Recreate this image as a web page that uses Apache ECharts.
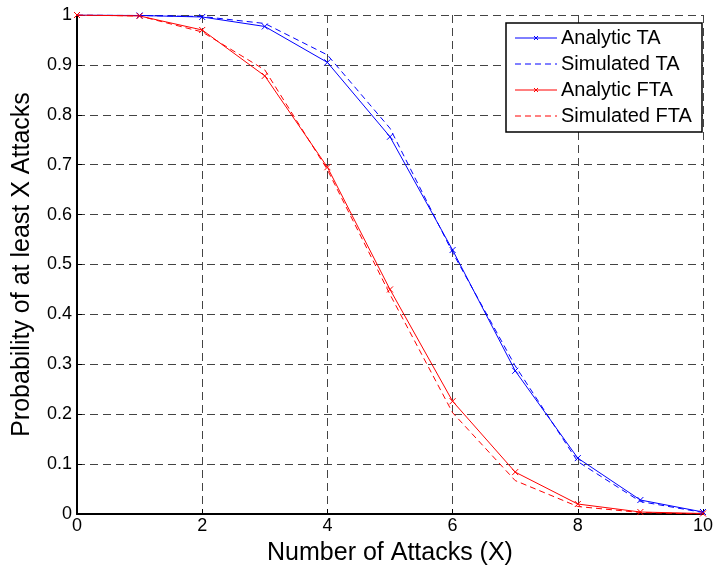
<!DOCTYPE html>
<html>
<head>
<meta charset="utf-8">
<script src="https://cdn.jsdelivr.net/npm/echarts@6/dist/echarts.min.js"></script>
<style>
  html, body { margin: 0; padding: 0; background: #fff; }
  #chart { width: 716px; height: 573px; }
</style>
</head>
<body>
<div id="chart"></div>
<script>
// Number of attacks on the x axis
const attacks = [0, 1, 2, 3, 4, 5, 6, 7, 8, 9, 10];

// Probability of at least X attacks
const analyticTA  = [1, 0.999, 0.996, 0.977, 0.905, 0.756, 0.529, 0.287, 0.112, 0.028, 0.004];
const simulatedTA = [1, 0.999, 0.997, 0.983, 0.920, 0.773, 0.524, 0.297, 0.105, 0.025, 0.003];
const analyticFTA  = [1, 0.998, 0.970, 0.878, 0.695, 0.450, 0.226, 0.084, 0.020, 0.004, 0.001];
const simulatedFTA = [1, 0.998, 0.966, 0.890, 0.690, 0.440, 0.203, 0.067, 0.015, 0.003, 0.000];

const yTicks = ['0', '0.1', '0.2', '0.3', '0.4', '0.5', '0.6', '0.7', '0.8', '0.9', '1'];
const legendNames = ['Analytic TA', 'Simulated TA', 'Analytic FTA', 'Simulated FTA'];

const pairs = ys => attacks.map((x, i) => [x, ys[i]]);
const cross = 'path://M0,0L10,10M10,0L0,10';
const font = 'Liberation Sans, Arial, sans-serif';
const BLUE = '#0000ff', RED = '#ff0000';

function series(name, ys, color, dashed) {
  return {
    name: name,
    type: 'line',
    data: pairs(ys),
    symbol: dashed ? 'none' : cross,
    symbolSize: 6,
    showSymbol: !dashed,
    lineStyle: { color: color, width: 1, type: dashed ? [6, 4] : 'solid' },
    itemStyle: { color: 'none', borderColor: color, borderWidth: 1 },
    emphasis: { disabled: true },
    animation: false
  };
}

// Boxed legend drawn as graphic elements: line sample, optional cross, label
function legendGraphic() {
  const left = 506, top = 23, w = 196, h = 109;
  const rowY = [38, 64, 90, 116];
  const styles = [
    { color: BLUE, dashed: false }, { color: BLUE, dashed: true },
    { color: RED, dashed: false }, { color: RED, dashed: true }
  ];
  const els = [{
    type: 'rect', shape: { x: left, y: top, width: w, height: h },
    style: { fill: '#fff', stroke: '#000', lineWidth: 1.5 }, z: 100
  }];
  legendNames.forEach((name, i) => {
    const y = rowY[i], s = styles[i];
    els.push({
      type: 'line', shape: { x1: 515, y1: y, x2: 557, y2: y },
      style: { stroke: s.color, lineWidth: 1, lineDash: s.dashed ? [6, 4] : null }, z: 101
    });
    if (!s.dashed) {
      els.push({
        type: 'polyline', shape: { points: [[534, y - 2], [538, y + 2]] },
        style: { stroke: s.color, lineWidth: 1 }, z: 101
      });
      els.push({
        type: 'polyline', shape: { points: [[538, y - 2], [534, y + 2]] },
        style: { stroke: s.color, lineWidth: 1 }, z: 101
      });
    }
    els.push({
      type: 'text', x: 561, y: y,
      style: { text: name, font: '20px ' + font, fill: '#000', textVerticalAlign: 'middle', verticalAlign: 'middle' },
      z: 101
    });
  });
  return els;
}

const chart = echarts.init(document.getElementById('chart'));
chart.setOption({
  backgroundColor: '#fff',
  animation: false,
  grid: { left: 77, right: 13, top: 15, bottom: 59 },
  xAxis: {
    type: 'value', min: 0, max: 10, interval: 2,
    name: 'Number of Attacks (X)', nameLocation: 'middle', nameGap: 27,
    nameTextStyle: { fontFamily: font, fontSize: 25, color: '#000' },
    axisLine: { lineStyle: { color: '#000', width: 2 } },
    axisTick: { inside: true, length: 5, lineStyle: { color: '#000' } },
    axisLabel: { fontFamily: font, fontSize: 18, color: '#000', margin: 3 },
    splitLine: { show: true, lineStyle: { color: '#444', type: [8, 5], width: 1 } }
  },
  yAxis: {
    type: 'value', min: 0, max: 1, interval: 0.1,
    name: 'Probability of at least X Attacks', nameLocation: 'middle', nameGap: 42,
    nameTextStyle: { fontFamily: font, fontSize: 25, color: '#000' },
    axisLine: { show: true, lineStyle: { color: '#000', width: 2 } },
    axisTick: { show: true, inside: true, length: 5, lineStyle: { color: '#000' } },
    axisLabel: {
      fontFamily: font, fontSize: 18, color: '#000', margin: 5,
      formatter: v => yTicks[Math.round(v * 10)]
    },
    splitLine: { show: true, lineStyle: { color: '#444', type: [8, 5], width: 1 } }
  },
  series: [
    series(legendNames[0], analyticTA, BLUE, false),
    series(legendNames[1], simulatedTA, BLUE, true),
    series(legendNames[2], analyticFTA, RED, false),
    series(legendNames[3], simulatedFTA, RED, true)
  ],
  graphic: legendGraphic()
});
</script>
</body>
</html>
